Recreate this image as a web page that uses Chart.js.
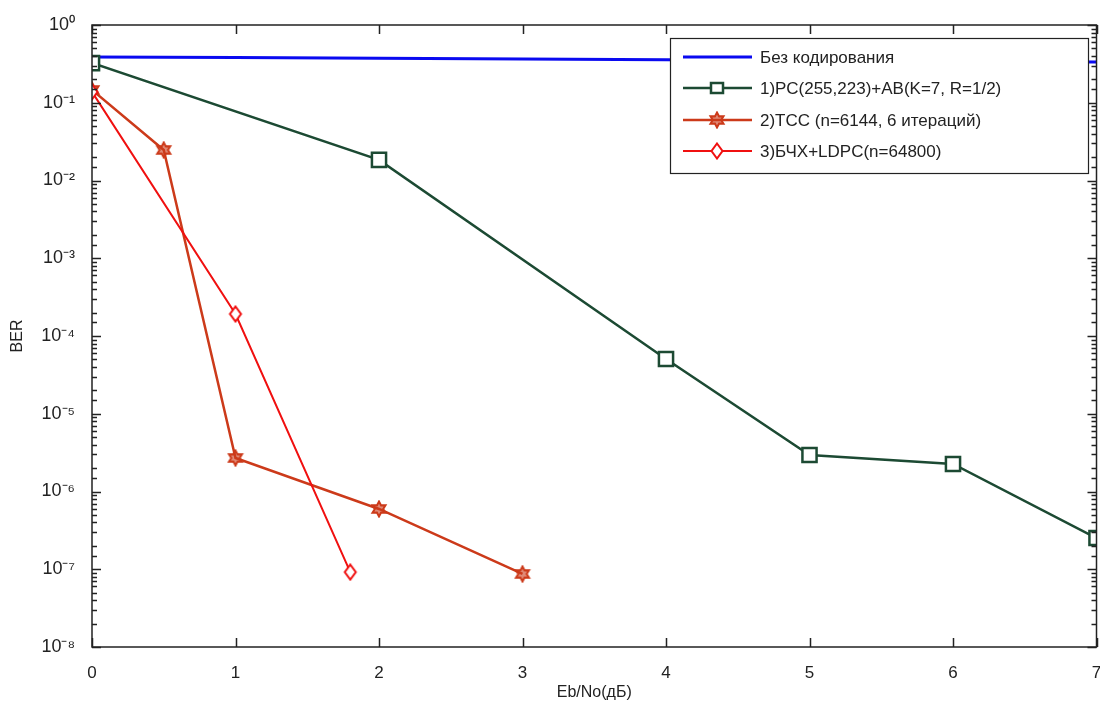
<!DOCTYPE html>
<html>
<head>
<meta charset="utf-8">
<script src="https://cdn.jsdelivr.net/npm/chart.js@4.4.0/dist/chart.umd.min.js"></script>
<style>
html,body{margin:0;padding:0;background:#fff;overflow:hidden;}
#wrap{width:1109px;height:710px;position:relative;}
</style>
</head>
<body>
<div id="wrap"><canvas id="c" width="1109" height="710"></canvas></div>
<script>
// ---- data ----
const xUncoded = [0,1,2,3,4,5,6,7];
const berUncoded = [0.388,0.381,0.373,0.366,0.358,0.350,0.342,0.334];
const xRS = [0,2,4,5,6,7];
const berRS = [0.324,0.0184,5.06e-5,2.95e-6,2.26e-6,2.52e-7];
const xTCC = [0,0.5,1,2,3];
const berTCC = [0.146,0.0247,2.7e-6,5.96e-7,8.7e-8];
const xLDPC = [0,1,1.8];
const berLDPC = [0.138,1.92e-4,9.2e-8];
const labels = [
  'Без кодирования',
  '1)РС(255,223)+АВ(K=7, R=1/2)',
  '2)TCC (n=6144, 6 итераций)',
  '3)БЧХ+LDPC(n=64800)'
];
const xTicks = [0,1,2,3,4,5,6,7];
const yDecades = [1e-8,1e-7,1e-6,1e-5,1e-4,1e-3,1e-2,1e-1,1];

const FONT = '"Liberation Sans", Arial, sans-serif';
const sup = {'0':'⁰','1':'¹','2':'²','3':'³','4':'⁴','5':'⁵','6':'⁶','7':'⁷','8':'⁸','9':'⁹','-':'⁻'};

function pts(xs, ys){ return xs.map((x,i)=>({x:x,y:ys[i]})); }

function makeHexagram(color){
  const c = document.createElement('canvas'); c.width=18; c.height=18;
  const g = c.getContext('2d');
  g.strokeStyle=color; g.lineWidth=2; g.fillStyle=color;
  g.beginPath();
  for(let i=0;i<12;i++){
    const r = i%2===0 ? 7.5 : 4.2;
    const a = -Math.PI/2 + i*Math.PI/6;
    const px = 9 + r*Math.cos(a), py = 9 + r*Math.sin(a);
    i===0 ? g.moveTo(px,py) : g.lineTo(px,py);
  }
  g.closePath(); g.globalAlpha=0.6; g.fill(); g.globalAlpha=1; g.stroke();
  return c;
}
function makeDiamond(color){
  const c = document.createElement('canvas'); c.width=16; c.height=18;
  const g = c.getContext('2d');
  g.strokeStyle=color; g.lineWidth=2; g.fillStyle='#fff';
  g.beginPath(); g.moveTo(8,1.5); g.lineTo(13.5,9); g.lineTo(8,16.5); g.lineTo(2.5,9); g.closePath();
  g.fill(); g.stroke();
  return c;
}

const cBlue='#0a0af0', cGreen='#1c4a33', cOrange='#cc3a1a', cRed='#f01010';
const starImg = makeHexagram(cOrange);
const diaImg = makeDiamond(cRed);

const boxPlugin = {
  id:'matlabBox',
  afterDraw(chart){
    const ctx = chart.ctx, a = chart.chartArea;
    const xs = chart.scales.x, ys = chart.scales.y;
    ctx.save();
    ctx.strokeStyle='#222'; ctx.lineWidth=1.5;
    ctx.strokeRect(a.left, a.top, a.right-a.left, a.bottom-a.top);
    ctx.beginPath();
    xs.ticks.forEach(t=>{
      const px = Math.round(xs.getPixelForValue(t.value))+0.5;
      ctx.moveTo(px,a.bottom); ctx.lineTo(px,a.bottom-9);
      ctx.moveTo(px,a.top); ctx.lineTo(px,a.top+9);
    });
    ys.ticks.forEach(t=>{
      const v=t.value; const lg=Math.log10(v);
      const major = Math.abs(lg-Math.round(lg))<1e-9;
      const len = major?9:5;
      const py = Math.round(ys.getPixelForValue(v))+0.5;
      ctx.moveTo(a.left,py); ctx.lineTo(a.left+len,py);
      ctx.moveTo(a.right,py); ctx.lineTo(a.right-len,py);
    });
    ctx.stroke();
    // legend
    const L=670, T=38, R=1088, B=173;
    ctx.fillStyle='#fff'; ctx.fillRect(L,T,R-L,B-T);
    ctx.strokeStyle='#222'; ctx.lineWidth=1.2; ctx.strokeRect(L+0.5,T+0.5,R-L,B-T);
    const rowY=[57,88,120,151];
    chart.data.datasets.forEach((ds,i)=>{
      const y=rowY[i];
      ctx.strokeStyle=ds.borderColor; ctx.lineWidth=ds.borderWidth;
      ctx.beginPath(); ctx.moveTo(683,y); ctx.lineTo(752,y); ctx.stroke();
      if(ds.pointRadius>0){
        if(ds.pointStyle==='rect'){
          ctx.fillStyle='#fff'; ctx.strokeStyle=ds.borderColor; ctx.lineWidth=2.5;
          ctx.fillRect(711,y-5,12,10); ctx.strokeRect(711,y-5,12,10);
        } else {
          Chart.helpers.drawPoint(ctx,{pointStyle:ds.pointStyle,radius:ds.pointRadius,borderWidth:0,rotation:0},717,y);
        }
      }
      ctx.fillStyle='#222'; ctx.font='17px '+FONT; ctx.textBaseline='middle'; ctx.textAlign='left';
      ctx.fillText(ds.label,760,y+1);
    });
    ctx.restore();
  }
};

new Chart(document.getElementById('c'),{
  type:'line',
  data:{datasets:[
    {label:labels[0],data:pts(xUncoded,berUncoded),borderColor:cBlue,borderWidth:3,pointRadius:0,order:4},
    {label:labels[1],data:pts(xRS,berRS),borderColor:cGreen,borderWidth:2.5,pointStyle:'rect',pointRadius:10,pointBorderWidth:2.5,pointBackgroundColor:'#fff',pointBorderColor:cGreen,order:3},
    {label:labels[2],data:pts(xTCC,berTCC),borderColor:cOrange,borderWidth:2.5,pointStyle:starImg,pointRadius:8,pointBorderWidth:0,order:2},
    {label:labels[3],data:pts(xLDPC,berLDPC),borderColor:cRed,borderWidth:2,pointStyle:diaImg,pointRadius:8,pointBorderWidth:0,order:1}
  ]},
  options:{
    responsive:false, animation:false,
    layout:{padding:{left:0,right:9,top:25,bottom:0}},
    plugins:{legend:{display:false},tooltip:{enabled:false}},
    elements:{line:{tension:0}},
    scales:{
      x:{type:'linear',min:0,max:7,
        afterBuildTicks(s){ s.ticks = xTicks.map(v=>({value:v})); },
        afterFit(s){ s.height=63; s.paddingLeft=0; s.paddingRight=0; },
        grid:{display:false}, border:{display:false},
        ticks:{padding:8,color:'#222',font:{family:FONT,size:17},callback:v=>String(v)},
        title:{display:true,text:'Eb/No(дБ)',color:'#222',font:{family:FONT,size:16},padding:{top:0,bottom:8}}
      },
      y:{type:'logarithmic',min:1e-8,max:1,
        afterFit(s){ s.width=92; s.paddingTop=0; s.paddingBottom=0; },
        grid:{display:false}, border:{display:false},
        ticks:{autoSkip:false,padding:9,color:'#222',font:{family:FONT,size:18},
          callback:function(v){
            const lg=Math.log10(v);
            if(Math.abs(lg-Math.round(lg))>1e-9) return '';
            if(!yDecades.some(d=>Math.abs(Math.log10(d)-lg)<1e-9)) return '';
            return '10'+String(Math.round(lg)).split('').map(ch=>sup[ch]).join('');
          }},
        title:{display:true,text:'BER',color:'#222',font:{family:FONT,size:16},padding:{top:8,bottom:0}}
      }
    }
  },
  plugins:[boxPlugin]
});
</script>
</body>
</html>
